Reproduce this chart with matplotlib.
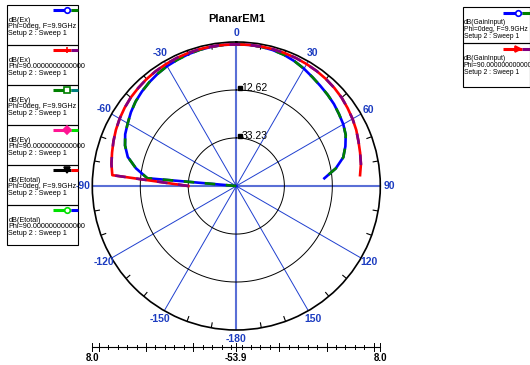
import numpy as np
import matplotlib
matplotlib.use("Agg")
import matplotlib.pyplot as plt
from matplotlib.patches import Rectangle
from matplotlib.transforms import offset_copy

plt.rcParams["font.family"] = ["Liberation Sans", "DejaVu Sans"]

# --- data ------------------------------------------------------------------
theta_deg = [-90, -85, -80, -75, -70, -65, -60, -55, -50, -45, -40, -35,
             -30, -25, -20, -15, -10, -5, 0, 5, 10, 15, 20, 25,
             30, 35, 40, 45, 50, 55, 60, 65, 70, 75, 80, 85]
gain_phi0 = [-53.9, -15.5, -10.1, -5.6, -3.0, -1.2, 0.0, 1.4, 2.6, 3.5, 4.3, 5.0,
             5.6, 6.0, 6.4, 6.7, 6.9, 7.0, 7.0, 7.0, 6.9, 6.6, 6.1, 5.3,
             4.3, 3.2, 2.3, 1.6, 0.9, 0.0, -0.8, -2.0, -4.0, -6.3, -10.5, -15.9]
gain_phi90 = [-33.3, -0.4, 0.6, 1.4, 2.3, 3.2, 4.0, 4.7, 5.3, 5.7, 6.1, 6.4,
              6.6, 6.8, 6.9, 7.0, 7.0, 7.0, 7.0, 7.0, 7.0, 7.0, 6.9, 6.8,
              6.6, 6.4, 6.1, 5.7, 5.2, 4.5, 3.8, 3.0, 2.0, 1.2, 0.5, -0.5]

r_min, r_max = -53.9, 8.0
ring_values = [-33.23, -12.62]
ring_labels = ["33.23", "12.62"]
spoke_angles = [0, 30, 60, 90, 120, 150]
angle_labels = {0: "0", 30: "30", 60: "60", 90: "90", 120: "120", 150: "150",
                180: "-180", -150: "-150", -120: "-120", -90: "-90",
                -60: "-60", -30: "-30"}
title = "PlanarEM1"

left_legend = [
    ("dB(Ex)", "Phi=0deg, F=9.9GHz", "#0000ff", "#008000", "o"),
    ("dB(Ex)", "Phi=90.0000000000000", "#ff0000", "#800080", "|"),
    ("dB(Ey)", "Phi=0deg, F=9.9GHz", "#008000", "#008080", "s"),
    ("dB(Ey)", "Phi=90.0000000000000", "#ff1493", "#00e000", "D"),
    ("dB(Etotal)", "Phi=0deg, F=9.9GHz", "#000000", "#ff0000", "v"),
    ("dB(Etotal)", "Phi=90.0000000000000", "#00e000", "#0000ff", "o"),
]
right_legend = [
    ("dB(GainInput)", "Phi=0deg, F=9.9GHz", "#0000ff", "#008000", "o"),
    ("dB(GainInput)", "Phi=90.0000000000000", "#ff0000", "#800080", ">"),
]
setup_label = "Setup 2 : Sweep 1"

W, H = 530, 365
cx, cy, R = 236.3, 186.0, 144.0
spoke_blue = "#1f3fcf"
axis_blue = "#5a6fd6"
label_blue = "#1c3cc0"

fig = plt.figure(figsize=(W / 100, H / 100), dpi=100)

ax = fig.add_axes([(cx - R) / W, (H - cy - R) / H, 2 * R / W, 2 * R / H],
                  projection="polar")
ax.set_theta_zero_location("N")
ax.set_theta_direction(-1)
ax.set_rlim(r_min, r_max)
ax.grid(False)
ax.set_xticks([])
ax.set_yticks([])
ax.spines["polar"].set_color("black")
ax.spines["polar"].set_linewidth(1.2)

# spokes
for a in spoke_angles:
    main = a in (0, 90)
    for t in np.deg2rad([a, a + 180]):
        ax.plot([t, t], [r_min, r_max], color=axis_blue if main else spoke_blue,
                lw=1.5 if main else 0.7, zorder=1)

# rings
circ = np.linspace(0, 2 * np.pi, 361)
for rv in ring_values:
    ax.plot(circ, np.full_like(circ, rv), color="black", lw=0.7, zorder=1)

# minor ticks on outer circle every 10 degrees
tick_len = 5 / R * (r_max - r_min)
for a in range(0, 360, 10):
    if a % 30 == 0:
        continue
    t = np.deg2rad(a)
    ax.plot([t, t], [r_max - tick_len, r_max], color="black", lw=0.8, zorder=1)

# ring labels
mark_tr = offset_copy(ax.transData, fig=fig, x=3.5, y=1.5, units="dots")
txt_tr = offset_copy(ax.transData, fig=fig, x=5, y=1.5, units="dots")
for rv, lab in zip(ring_values, ring_labels):
    ax.plot([0], [rv], marker="s", ms=2.2, color="black", transform=mark_tr,
            clip_on=False, zorder=4)
    ax.text(0, rv, lab, transform=txt_tr, fontsize=7.5, color="black",
            ha="left", va="center", zorder=4)

# angle labels
lab_r = r_max + 9 / R * (r_max - r_min)
for a, lab in angle_labels.items():
    ax.text(np.deg2rad(a), lab_r, lab, color=label_blue, fontsize=7.5,
            fontweight="bold", ha="center", va="center", clip_on=False)

# traces (alternating colours as in the reference)
th = np.deg2rad(theta_deg)
ax.plot(th, gain_phi0, color="#0000ff", lw=1.9, zorder=3)
ax.plot(th, gain_phi0, color="#008000", lw=1.9, dashes=(4, 4), zorder=3)
ax.plot(th, gain_phi90, color="#ff0000", lw=1.9, zorder=3)
ax.plot(th, gain_phi90, color="#800080", lw=1.9, dashes=(4, 4), zorder=3)

# --- overlay in pixel coordinates: title, legends, ruler ---------------------
ov = fig.add_axes([0, 0, 1, 1], facecolor="none")
ov.set_xlim(0, W)
ov.set_ylim(H, 0)
ov.axis("off")

ov.text(cx, 19, title, fontsize=8, fontweight="bold", ha="center", va="center")


def legend_box(x0, x1, top, height, name, phi, c1, c2, marker, sample_x,
               sample_dy, fs):
    box = Rectangle((x0, top), x1 - x0, height, fill=False, ec="black", lw=0.8)
    ov.add_patch(box)
    sy = top + sample_dy
    split = sample_x + 0.7 * (x1 - sample_x)
    ov.plot([sample_x, split], [sy, sy], color=c1, lw=2.2, solid_capstyle="butt")
    ov.plot([split, x1], [sy, sy], color=c2, lw=2.2, solid_capstyle="butt")
    ov.plot([split - 4], [sy], marker=marker, ms=4,
            mfc="white" if marker in "os" else c1, mec=c1, mew=1.2)
    for i, s in enumerate([name, phi, setup_label]):
        t = ov.text(x0 + 1.5, top + sample_dy + 10 + 6.6 * i, s, fontsize=fs,
                    ha="left", va="center")
        t.set_clip_path(box)


for i, (name, phi, c1, c2, m) in enumerate(left_legend):
    legend_box(7, 78, 5 + 40 * i, 40, name, phi, c1, c2, m, 53, 5, 5.2)

for i, (name, phi, c1, c2, m) in enumerate(right_legend):
    top = 7 + 36 * i
    legend_box(462.5, 530, top, 36 if i == 0 else 44, name, phi, c1, c2, m,
               503, 6, 4.9)

# bottom ruler showing the radial scale
ry = 347
ov.plot([cx - R, cx + R], [ry, ry], color="black", lw=0.8)
scale = R / (r_max - r_min)
major_db = [-35.4, -15.1, 5.2]
minor_db = np.arange(-35.4 - 4 * 4.06, r_max, 4.06)
for v in minor_db:
    for sgn in (-1, 1):
        x = cx + sgn * (v - r_min) * scale
        ov.plot([x, x], [ry - 2, ry + 2], color="black", lw=0.7)
for v in major_db:
    for sgn in (-1, 1):
        x = cx + sgn * (v - r_min) * scale
        ov.plot([x, x], [ry - 4, ry + 4], color="black", lw=0.7)
for x in (cx - R, cx, cx + R):
    ov.plot([x, x], [ry - 4, ry + 4], color="black", lw=0.7)
for x, v in ((cx - R, r_max), (cx, r_min), (cx + R, r_max)):
    ov.text(x, 358, f"{v:.1f}", fontsize=7, fontweight="bold",
            ha="center", va="center")

fig.savefig("out.png", dpi=100)
